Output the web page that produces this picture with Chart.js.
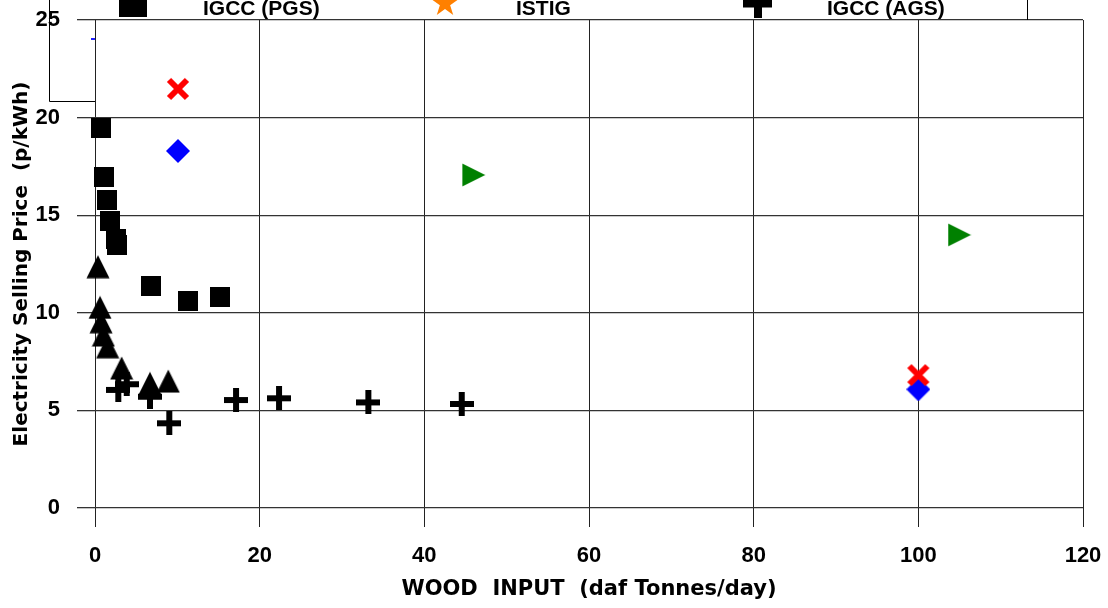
<!DOCTYPE html>
<html>
<head>
<meta charset="utf-8">
<script src="https://cdn.jsdelivr.net/npm/chart.js@4"></script>
<style>
  html,body{margin:0;padding:0;background:#fff;}
  #wrap{width:1108px;height:608px;}
</style>
</head>
<body>
<div id="wrap"><canvas id="priceChart" width="1108" height="608"></canvas></div>
<script>
/* -------------------------- data -------------------------- */

const X_TICKS=[0,20,40,60,80,100,120];
const Y_TICKS=[0,5,10,15,20,25];

// IGCC (PGS)
const pgsX=[0.69,1.05,1.42,1.82,2.55,2.67,6.8,11.3,15.18];
const pgsY=[19.47,16.97,15.79,14.72,13.8,13.49,11.39,10.62,10.81];
// IGCC (AGS)
const agsX=[2.83,3.85,6.68,9.02,17.13,22.35,33.2,44.54];
const agsY=[6.05,6.34,5.70,4.34,5.53,5.62,5.41,5.33];
// black triangles
const triX=[0.36,0.61,0.73,1.01,1.54,3.24,6.68,8.9];
const triY=[12.36,10.28,9.54,8.86,8.26,7.17,6.39,6.5];
// red crosses
const redX=[10.08,100];
const redY=[21.47,6.81];
// blue diamonds
const blueX=[10.08,100];
const blueY=[18.29,6.08];
// green triangles
const greenX=[46.0,105.0];
const greenY=[17.06,13.99];

const LEGEND_ROW=["IGCC (PGS)","ISTIG","IGCC (AGS)"];

/* -------------------------- marker glyphs -------------------------- */

function glyph(w,h,draw){
  const c=document.createElement("canvas"); c.width=w; c.height=h;
  const g=c.getContext("2d"); draw(g); return c;
}
const sqGlyph=glyph(20,20,g=>{g.fillStyle="#000";g.fillRect(0,0,20,20);});
const triGlyph=glyph(24,24,g=>{g.fillStyle="#000";g.beginPath();g.moveTo(12,0.5);g.lineTo(23.5,23.5);g.lineTo(0.5,23.5);g.closePath();g.fill();});
const plusGlyph=glyph(24,24,g=>{g.fillStyle="#000";g.fillRect(9,0,6,24);g.fillRect(0,9,24,6);});
const xGlyph=glyph(24,24,g=>{g.strokeStyle="#ff0000";g.lineWidth=6;g.beginPath();g.moveTo(3,3);g.lineTo(21,21);g.moveTo(21,3);g.lineTo(3,21);g.stroke();});
const diaGlyph=glyph(24,24,g=>{g.fillStyle="#0000ff";g.beginPath();g.moveTo(12,0);g.lineTo(24,12);g.lineTo(12,24);g.lineTo(0,12);g.closePath();g.fill();});
const greenGlyph=glyph(24,24,g=>{g.fillStyle="#008000";g.beginPath();g.moveTo(0.5,0.5);g.lineTo(23.5,12);g.lineTo(0.5,23.5);g.closePath();g.fill();});

const pts=(xs,ys)=>xs.map((x,i)=>({x,y:ys[i]}));
const set=(label,xs,ys,style)=>({label,data:pts(xs,ys),pointStyle:style,pointRadius:12,showLine:false,clip:false});

/* -------------------------- legend strip + frames -------------------------- */

const legendStrip={
  id:"legendStrip",
  afterDraw(chart){
    const ctx=chart.ctx;
    ctx.save();
    ctx.fillStyle="#000";
    ctx.fillRect(119,-11,28,28);
    // orange star
    ctx.fillStyle="#ff8000";
    ctx.beginPath();
    for(let i=0;i<10;i++){
      const r=i%2?5.4:14, a=-Math.PI/2+i*Math.PI/5;
      const px=445+r*Math.cos(a), py=3.7+r*Math.sin(a);
      i?ctx.lineTo(px,py):ctx.moveTo(px,py);
    }
    ctx.closePath(); ctx.fill();
    // black plus
    ctx.fillStyle="#000";
    ctx.fillRect(754,-11,8,29);
    ctx.fillRect(743,-0.5,29,8);
    ctx.font="bold 21px 'Liberation Sans', Arial, sans-serif";
    ctx.textBaseline="alphabetic";
    ctx.fillText(LEGEND_ROW[0],203,15);
    ctx.fillText(LEGEND_ROW[1],516,15);
    ctx.fillText(LEGEND_ROW[2],827,15);
    ctx.strokeStyle="#000"; ctx.lineWidth=1;
    ctx.beginPath();
    ctx.moveTo(49.5,0); ctx.lineTo(49.5,101.5); ctx.lineTo(95,101.5);
    ctx.moveTo(1027.5,0); ctx.lineTo(1027.5,20);
    ctx.stroke();
    ctx.strokeStyle="#2020ff"; ctx.lineWidth=2;
    ctx.beginPath(); ctx.moveTo(91,39); ctx.lineTo(95,39); ctx.stroke();
    ctx.restore();
  }
};

/* -------------------------- chart -------------------------- */

const tickFont={family:"'Liberation Sans', Arial, sans-serif",size:22,weight:"bold"};
const titleFont={family:"'DejaVu Sans', sans-serif",size:20,weight:"bold"};

new Chart(document.getElementById("priceChart"),{
  type:"scatter",
  data:{datasets:[
    set("IGCC (PGS)",pgsX,pgsY,sqGlyph),
    set("triangles",triX,triY,triGlyph),
    set("IGCC (AGS)",agsX,agsY,plusGlyph),
    set("red",redX,redY,xGlyph),
    set("blue",blueX,blueY,diaGlyph),
    set("green",greenX,greenY,greenGlyph)
  ]},
  options:{
    responsive:false, animation:false, devicePixelRatio:1,
    layout:{padding:{left:0,right:25,top:20,bottom:0}},
    plugins:{legend:{display:false},tooltip:{enabled:false}},
    scales:{
      x:{
        type:"linear", min:0, max:120,
        afterBuildTicks:s=>{s.ticks=X_TICKS.map(v=>({value:v}));},
        afterFit:s=>{s.height=100; s.paddingLeft=0; s.paddingRight=0;},
        border:{display:false},
        grid:{color:"#222",lineWidth:1,tickLength:19,drawTicks:true},
        ticks:{padding:16,color:"#000",maxRotation:0,font:tickFont},
        title:{display:true,text:"WOOD  INPUT  (daf Tonnes/day)",color:"#000",padding:{top:0,bottom:6},
          font:{...titleFont,size:21}}
      },
      y:{
        type:"linear", min:0, max:25,
        afterBuildTicks:s=>{s.ticks=Y_TICKS.map(v=>({value:v}));},
        afterFit:s=>{s.width=95; s.paddingTop=0; s.paddingBottom=0;},
        border:{display:false},
        grid:{color:"#333",lineWidth:1.3,tickLength:18,drawTicks:true},
        ticks:{padding:17,color:"#000",font:tickFont},
        title:{display:true,text:"Electricity Selling Price  (p/kWh)",color:"#000",padding:{top:10,bottom:0},
          font:titleFont}
      }
    }
  },
  plugins:[legendStrip]
});
</script>
</body>
</html>
